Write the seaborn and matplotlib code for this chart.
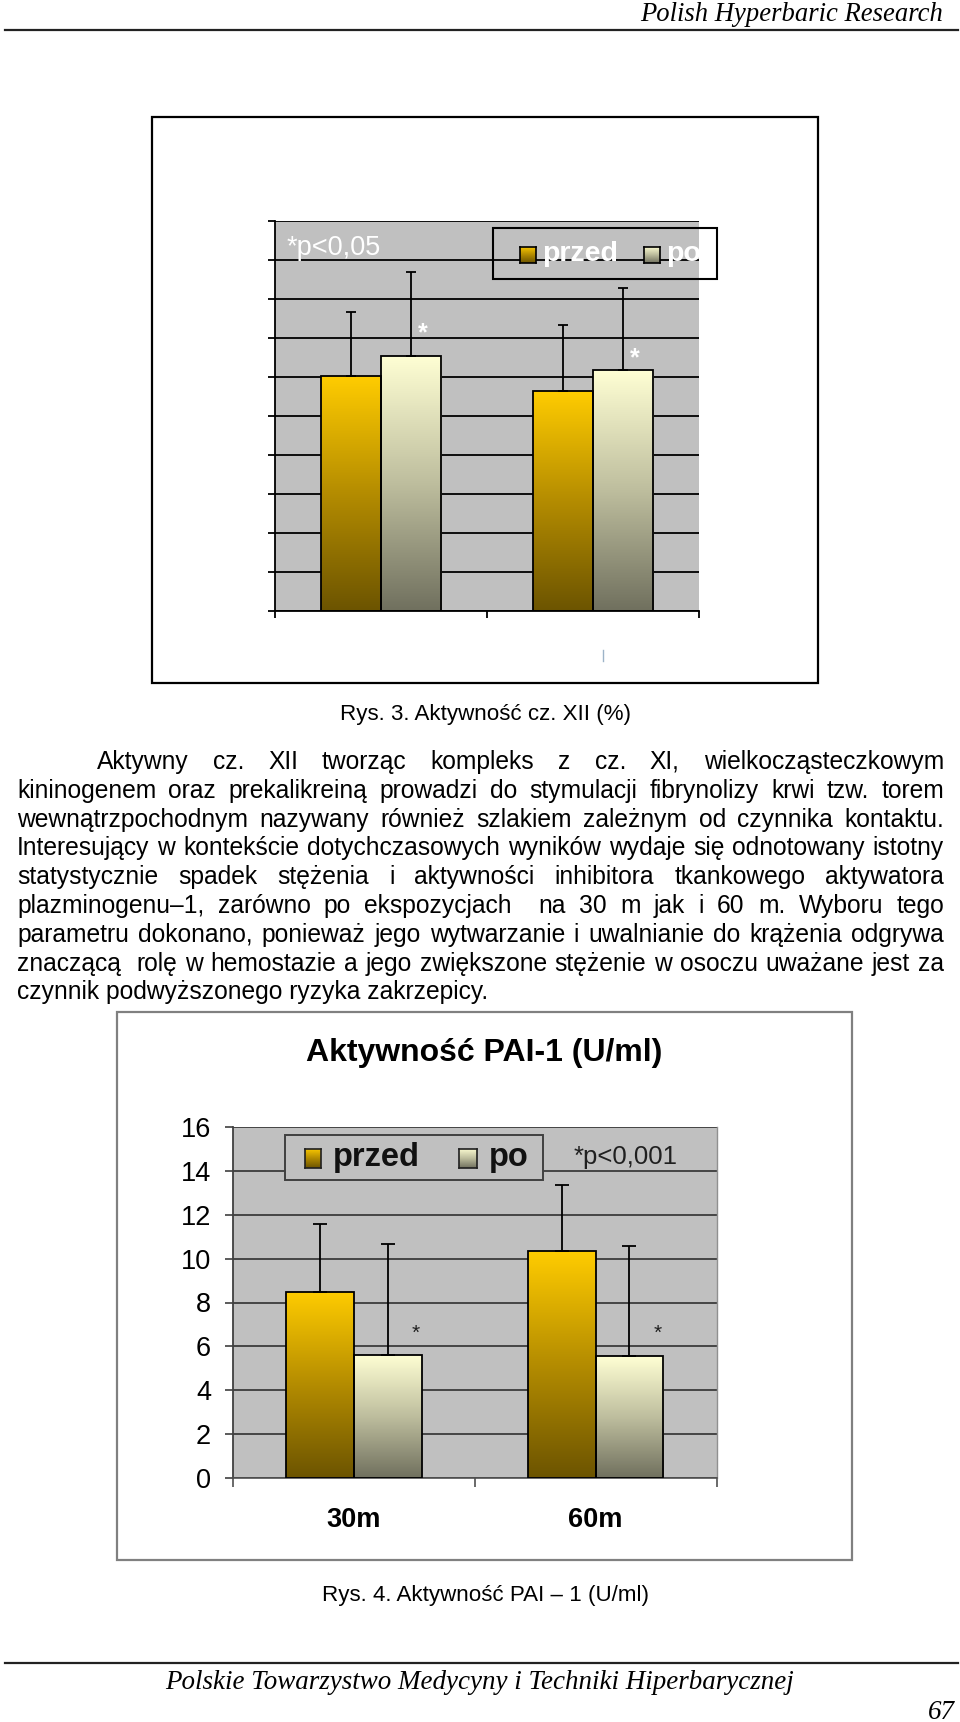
import re
import numpy as np
import pandas as pd
import matplotlib
matplotlib.use("Agg")
import matplotlib.pyplot as plt
from matplotlib.patches import Rectangle
from matplotlib.lines import Line2D
from matplotlib.colors import LinearSegmentedColormap, to_hex
import seaborn as sns

# ------------------------------------------------------------------ data
series = ["przed", "po"]

# Rys. 3  Aktywność cz. XII (%)  (no visible axis labels in the original)
xii_categories = ["30m", "60m"]
xii_przed = [6.02, 5.64]
xii_po = [6.55, 6.19]
xii_przed_sd = [1.64, 1.69]
xii_po_sd = [2.15, 2.10]
xii_star_levels = [7.31, 6.67]

# Rys. 4  Aktywność PAI-1 (U/ml)
pai_categories = ["30m", "60m"]
pai_przed = [8.50, 10.34]
pai_po = [5.61, 5.54]
pai_przed_sd = [3.09, 3.01]
pai_po_sd = [5.04, 5.05]
pai_star_levels = [6.88, 6.88]
pai_yticks = [0, 2, 4, 6, 8, 10, 12, 14, 16]

header_text = "Polish Hyperbaric Research"
footer_text = "Polskie Towarzystwo Medycyny i Techniki Hiperbarycznej"
page_number = "67"
caption3 = "Rys. 3. Aktywność cz. XII (%)"
caption4 = "Rys. 4. Aktywność PAI – 1 (U/ml)"
pai_title = "Aktywność PAI-1 (U/ml)"
xii_note = "*p<0,05"
pai_note = "*p<0,001"
body_lines = [
    "Aktywny cz. XII tworząc kompleks z cz. XI, wielkocząsteczkowym",
    "kininogenem oraz prekalikreiną prowadzi do stymulacji fibrynolizy krwi tzw. torem",
    "wewnątrzpochodnym nazywany również szlakiem zależnym od czynnika kontaktu.",
    "Interesujący w kontekście dotychczasowych wyników wydaje się odnotowany istotny",
    "statystycznie spadek stężenia i aktywności inhibitora tkankowego aktywatora",
    "plazminogenu–1, zarówno po ekspozycjach  na 30 m jak i 60 m. Wyboru tego",
    "parametru dokonano, ponieważ jego wytwarzanie i uwalnianie do krążenia odgrywa",
    "znaczącą  rolę w hemostazie a jego zwiększone stężenie w osoczu uważane jest za",
    "czynnik podwyższonego ryzyka zakrzepicy.",
]

# ------------------------------------------------------------------ setup
plt.rcParams['font.family'] = ['Liberation Sans', 'DejaVu Sans']
SERIF = ['Liberation Serif', 'DejaVu Serif']

W, H = 960, 1722
fig = plt.figure(figsize=(W / 100, H / 100), dpi=100)
fig.patch.set_facecolor('white')
renderer = fig.canvas.get_renderer()


def fx(x):
    return x / W


def fy(y):
    return 1 - y / H


def add_axes_px(x0, y0, x1, y1):
    return fig.add_axes([fx(x0), fy(y1), (x1 - x0) / W, (y1 - y0) / H])


def text_width(s, size, **kw):
    t = fig.text(0, 0, s, fontsize=size, **kw)
    w = t.get_window_extent(renderer).width
    t.remove()
    return w


def fit_size(s, target_px, **kw):
    return 10 * target_px / text_width(s, 10, **kw)


GRAD = {
    "przed": LinearSegmentedColormap.from_list("przed", ["#6C5400", "#B48C00", "#FFCC00"]),
    "po": LinearSegmentedColormap.from_list("po", ["#70705E", "#BEBE9E", "#FFFFD4"]),
}
BASE = {"przed": "#FFCC00", "po": "#FFFFCC"}
grad_arr = np.linspace(1, 0, 256).reshape(-1, 1)


def make_df(cats, przed, po, przed_sd, po_sd):
    rows = []
    for i, c in enumerate(cats):
        rows.append(dict(cat=c, series="przed", value=przed[i], sd=przed_sd[i]))
        rows.append(dict(cat=c, series="po", value=po[i], sd=po_sd[i]))
    return pd.DataFrame(rows)


def draw_chart(ax, df, cats, width, capsize, lw):
    sns.barplot(data=df, x="cat", y="value", hue="series", order=cats,
                hue_order=series, palette=BASE, saturation=1, width=width,
                edgecolor="black", linewidth=lw, errorbar=None, legend=False,
                ax=ax, zorder=3)
    col2s = {to_hex(v): k for k, v in BASE.items()}
    centers = {}
    for p in list(ax.patches):
        s = col2s.get(to_hex(p.get_facecolor(), keep_alpha=False))
        if s is None:
            continue
        x0, w, h = p.get_x(), p.get_width(), p.get_height()
        im = ax.imshow(grad_arr, cmap=GRAD[s], extent=[x0, x0 + w, 0, h],
                       aspect='auto', zorder=2, vmin=0, vmax=1,
                       interpolation='bilinear')
        im.set_clip_path(p)
        p.set_facecolor('none')
        cat = cats[int(round(x0 + w / 2))]
        sd = df[(df.cat == cat) & (df.series == s)].sd.iloc[0]
        ax.errorbar([x0 + w / 2], [h], yerr=[[0], [sd]], fmt='none',
                    ecolor='black', elinewidth=lw, capsize=capsize,
                    capthick=lw, zorder=4)
        centers[(cat, s)] = x0 + w / 2
    ax.set_xlim(-0.5, len(cats) - 0.5)
    ax.set_xlabel('')
    ax.set_ylabel('')
    return centers


def grad_square(x0, y0, x1, y1, s, edge='black'):
    a = add_axes_px(x0, y0, x1, y1)
    a.imshow(grad_arr, cmap=GRAD[s], aspect='auto', vmin=0, vmax=1,
             extent=[0, 1, 0, 1], interpolation='bilinear')
    a.set_xticks([])
    a.set_yticks([])
    for sp in a.spines.values():
        sp.set_color(edge)
        sp.set_linewidth(1.2)
    a.set_zorder(6)
    return a


# ------------------------------------------------------------------ header / footer
hs = fit_size(header_text, 303, family=SERIF, style='italic')
fig.text(fx(943), fy(21), header_text, ha='right', va='baseline',
         fontsize=hs, family=SERIF, style='italic')
fig.add_artist(Line2D([fx(5), fx(958)], [fy(29.5), fy(29.5)],
                      transform=fig.transFigure, color='#222222', lw=1.6))
fs = fit_size(footer_text, 629, family=SERIF, style='italic')
fig.add_artist(Line2D([fx(5), fx(958)], [fy(1663), fy(1663)],
                      transform=fig.transFigure, color='#222222', lw=1.6))
fig.text(fx(480), fy(1689), footer_text, ha='center', va='baseline',
         fontsize=fs, family=SERIF, style='italic')
fig.text(fx(955), fy(1719), page_number, ha='right', va='baseline',
         fontsize=fs, family=SERIF, style='italic')

# ------------------------------------------------------------------ chart 1 (Rys. 3)
fig.add_artist(Rectangle((fx(152), fy(683)), (818 - 152) / W, (683 - 117) / H,
                         transform=fig.transFigure, fill=False,
                         edgecolor='black', lw=1.6, zorder=1))
ax1 = add_axes_px(275, 221, 699, 611)
ax1.set_facecolor('#C0C0C0')
df1 = make_df(xii_categories, xii_przed, xii_po, xii_przed_sd, xii_po_sd)
c1 = draw_chart(ax1, df1, xii_categories, 0.57, 3.6, 1.3)
ax1.set_ylim(0, 10)
ax1.set_yticks(np.arange(0, 11))
ax1.set_yticklabels([])
ax1.set_xticks([-0.5, 0.5, 1.5])
ax1.set_xticklabels([])
ax1.tick_params(axis='both', direction='out', length=5, width=1.3, color='black')
ax1.grid(False)
ax1.yaxis.grid(True, color='black', lw=1.3)
ax1.set_axisbelow(True)
for sp in ['top', 'right']:
    ax1.spines[sp].set_visible(False)
for sp in ['left', 'bottom']:
    ax1.spines[sp].set_color('black')
    ax1.spines[sp].set_linewidth(1.3)
for cat, lvl in zip(xii_categories, xii_star_levels):
    ax1.annotate("*", xy=(c1[(cat, 'po')], lvl), xytext=(12, -14),
                 textcoords='offset pixels', ha='center', va='baseline',
                 color='white', fontsize=18, fontweight='bold', zorder=6)
fig.text(fx(287), fy(255), xii_note, ha='left', va='baseline', fontsize=19.5,
         color='white', zorder=5)
# legend of chart 1
fig.add_artist(Rectangle((fx(493), fy(279)), (717 - 493) / W, (279 - 228) / H,
                         transform=fig.transFigure, fill=False,
                         edgecolor='black', lw=1.5, zorder=2))
grad_square(520, 247, 536, 263, "przed")
grad_square(644, 247, 660, 263, "po")
fig.text(fx(542), fy(261), series[0], ha='left', va='baseline', fontsize=20.5,
         fontweight='bold', color='white', zorder=5)
fig.text(fx(666), fy(261), series[1], ha='left', va='baseline', fontsize=20.5,
         fontweight='bold', color='white', zorder=5)
fig.add_artist(Line2D([fx(603), fx(603)], [fy(650), fy(661)],
                      transform=fig.transFigure, color='#9DB3C8', lw=1))

# captions + body text
cs = fit_size(caption3, 291)
fig.text(fx(485), fy(720), caption3, ha='center', va='baseline', fontsize=cs)
fig.text(fx(485), fy(1601), caption4, ha='center', va='baseline', fontsize=cs)

bs = fit_size(body_lines[3], 922)
LEFT, RIGHT, INDENT = 17, 944, 97
for i, line in enumerate(body_lines):
    base_y = 769 + 28.8 * i
    x_start = INDENT if i == 0 else LEFT
    if i == len(body_lines) - 1:
        fig.text(fx(x_start), fy(base_y), line, ha='left', va='baseline', fontsize=bs)
        continue
    parts = re.findall(r'\S+|\s+', line)
    words = [p for p in parts if not p.isspace()]
    spaces = [len(p) for p in parts if p.isspace()]
    widths = [text_width(wd, bs) for wd in words]
    unit = (RIGHT - x_start - sum(widths)) / max(sum(spaces), 1)
    x = x_start
    for j, wd in enumerate(words):
        fig.text(fx(x), fy(base_y), wd, ha='left', va='baseline', fontsize=bs)
        if j < len(spaces):
            x += widths[j] + spaces[j] * unit

# ------------------------------------------------------------------ chart 2 (Rys. 4)
fig.add_artist(Rectangle((fx(117), fy(1560)), (852 - 117) / W, (1560 - 1012) / H,
                         transform=fig.transFigure, fill=False,
                         edgecolor='#808080', lw=1.6, zorder=1))
fig.text(fx(484.5), fy(1061), pai_title, ha='center', va='baseline',
         fontsize=23, fontweight='bold')
ax2 = add_axes_px(233, 1127, 716.5, 1478)
ax2.set_facecolor('#C0C0C0')
df2 = make_df(pai_categories, pai_przed, pai_po, pai_przed_sd, pai_po_sd)
c2 = draw_chart(ax2, df2, pai_categories, 0.56, 4.7, 1.3)
ax2.set_ylim(pai_yticks[0], pai_yticks[-1])
ax2.set_yticks(pai_yticks)
ax2.set_yticklabels([str(v) for v in pai_yticks], fontsize=19.5)
ax2.set_xticks([-0.5, 0.5, 1.5])
ax2.set_xticklabels([])
ax2.set_xticks(range(len(pai_categories)), minor=True)
ax2.set_xticklabels(pai_categories, minor=True, fontsize=19.5, fontweight='bold')
ax2.tick_params(axis='x', which='minor', length=0, pad=21)
ax2.tick_params(axis='x', which='major', direction='out', length=6.5, width=1.2,
                color='#505050')
ax2.tick_params(axis='y', direction='out', length=5.8, width=1.2, color='#404040',
                pad=10)
ax2.grid(False)
ax2.yaxis.grid(True, color='#303030', lw=1.2)
ax2.set_axisbelow(True)
ax2.spines['top'].set_visible(False)
ax2.spines['left'].set_color('#404040')
ax2.spines['left'].set_linewidth(1.3)
ax2.spines['bottom'].set_color('#505050')
ax2.spines['bottom'].set_linewidth(1.2)
ax2.spines['right'].set_color('#909090')
ax2.spines['right'].set_linewidth(1.0)
for cat, lvl in zip(pai_categories, pai_star_levels):
    ax2.annotate("*", xy=(c2[(cat, 'po')], lvl), xytext=(28, -12),
                 textcoords='offset pixels', ha='center', va='baseline',
                 color='#202020', fontsize=15, zorder=6)
fig.text(fx(574), fy(1164), pai_note, ha='left', va='baseline', fontsize=18.5,
         color='#202020', zorder=5)
# legend of chart 2
fig.add_artist(Rectangle((fx(285), fy(1180)), (543 - 285) / W, (1180 - 1135) / H,
                         transform=fig.transFigure, facecolor='#C0C0C0',
                         edgecolor='#404040', lw=1.4, zorder=2))
grad_square(305, 1149, 321, 1168, "przed", edge='#202020')
grad_square(459, 1149, 477, 1168, "po", edge='#202020')
fig.text(fx(333), fy(1166), series[0], ha='left', va='baseline', fontsize=23.5,
         fontweight='bold', color='#111111', zorder=5)
fig.text(fx(489), fy(1166), series[1], ha='left', va='baseline', fontsize=23.5,
         fontweight='bold', color='#111111', zorder=5)

fig.savefig("out.png", dpi=100, facecolor='white')
